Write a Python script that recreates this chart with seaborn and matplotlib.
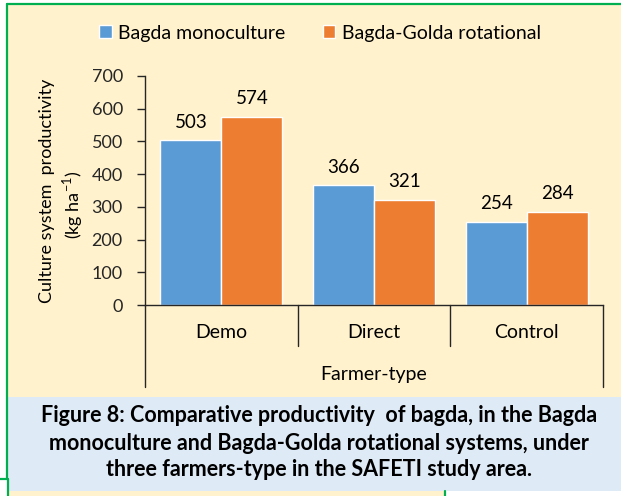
import matplotlib
matplotlib.use("Agg")
import matplotlib.pyplot as plt
import matplotlib.transforms as mtransforms
from matplotlib.patches import Rectangle
from matplotlib.lines import Line2D
import seaborn as sns
import pandas as pd

# data
farmer_types = ["Demo", "Direct", "Control"]
systems = ["Bagda monoculture", "Bagda-Golda rotational"]
monoculture = [503, 366, 254]
rotational = [574, 321, 284]
y_ticks = [0, 100, 200, 300, 400, 500, 600, 700]

caption = ["Figure 8: Comparative productivity  of bagda, in the Bagda",
           "monoculture and Bagda-Golda rotational systems, under",
           "three farmers-type in the SAFETI study area."]

df = pd.DataFrame({
    "Farmer-type": farmer_types * 2,
    "System": [systems[0]] * 3 + [systems[1]] * 3,
    "Productivity": monoculture + rotational,
})

BLUE = "#5B9BD5"
ORANGE = "#ED7D31"
BEIGE = "#FFF2CC"
CAPBLUE = "#DEEAF6"
GREEN = "#00B050"
AXIS = "#262626"

W, H = 621, 496

sns.set_style("ticks")
plt.rcParams["font.family"] = ["Lato", "DejaVu Sans"]
plt.rcParams["text.color"] = "black"

fig = plt.figure(figsize=(W / 100, H / 100), dpi=100, facecolor="white")


def fx(x):
    return x / W


def fy(y):
    return 1 - y / H


def box(x0, y0, x1, y1, color):
    fig.add_artist(Rectangle((fx(x0), fy(y1)), (x1 - x0) / W, (y1 - y0) / H,
                             transform=fig.transFigure, color=color, lw=0, zorder=0))


def gline(xs, ys):
    fig.add_artist(Line2D([fx(x) for x in xs], [fy(y) for y in ys],
                          transform=fig.transFigure, color=GREEN, lw=1.6, zorder=1))


# background boxes and green frame
box(8, 4, W, 397, BEIGE)
box(8, 491, 445, H, BEIGE)
box(8, 397, W, 491, CAPBLUE)
gline([7, W], [4, 4])
gline([7, 7], [4, 479])
gline([0, 8], [479, 479])
gline([445, 445], [491, H])
gline([8, 8], [479, H])

# axes
ax_top, ax_bot = 76, 305
ax = fig.add_axes([fx(145), fy(ax_bot), (603 - 145) / W, (ax_bot - ax_top) / H])
ax.patch.set_visible(False)

sns.barplot(data=df, x="Farmer-type", y="Productivity", hue="System",
            palette=[BLUE, ORANGE], saturation=1, width=0.8, ax=ax)

for c in ax.containers:
    ax.bar_label(c, padding=7, fontsize=13.5)

ax.set_ylim(0, 700)
ax.set_xlim(-0.5, 2.5)
ax.set_yticks(y_ticks)
ax.tick_params(axis="y", length=6, width=1, color=AXIS, labelsize=13, pad=10)
ax.set_xticks([])
ax.set_xlabel("")
ax.set_ylabel("")
sns.despine(ax=ax)
for s in ["left", "bottom"]:
    ax.spines[s].set_color(AXIS)
    ax.spines[s].set_linewidth(1)

# category separators below the axis
trans = mtransforms.blended_transform_factory(ax.transData, ax.transAxes)
ah = ax_bot - ax_top
for xs, depth in [(-0.5, 387), (0.5, 346), (1.5, 346), (2.5, 387)]:
    ax.plot([xs, xs], [0, -(depth - ax_bot) / ah], transform=trans,
            clip_on=False, color=AXIS, lw=1)
for i, name in enumerate(farmer_types):
    ax.text(i, -(333 - ax_bot) / ah, name, transform=trans,
            ha="center", va="center", fontsize=14)
ax.text(1, -(375 - ax_bot) / ah, "Farmer-type", transform=trans,
        ha="center", va="center", fontsize=14)

# legend
handles, labels = ax.get_legend_handles_labels()
ax.get_legend().remove()
fig.legend(handles, labels, loc="center", bbox_to_anchor=(fx(320), fy(33)),
           ncol=2, frameon=False, fontsize=14, handlelength=0.65, handleheight=0.65,
           handletextpad=0.35, columnspacing=1.9)

# y label (two lines)
fig.text(fx(47), fy(191), "Culture system  productivity", rotation=90,
         ha="center", va="center", fontsize=13)
fig.text(fx(73), fy(205), "(kg ha$^{\\mathregular{-1}}$)", rotation=90,
         ha="center", va="center", fontsize=13)

# caption
for line, yy in zip(caption, [415, 443, 470]):
    fig.text(fx(319), fy(yy), line, ha="center", va="center",
             fontsize=15.5, fontweight="bold")

fig.savefig("out.png", dpi=100, facecolor="white")
